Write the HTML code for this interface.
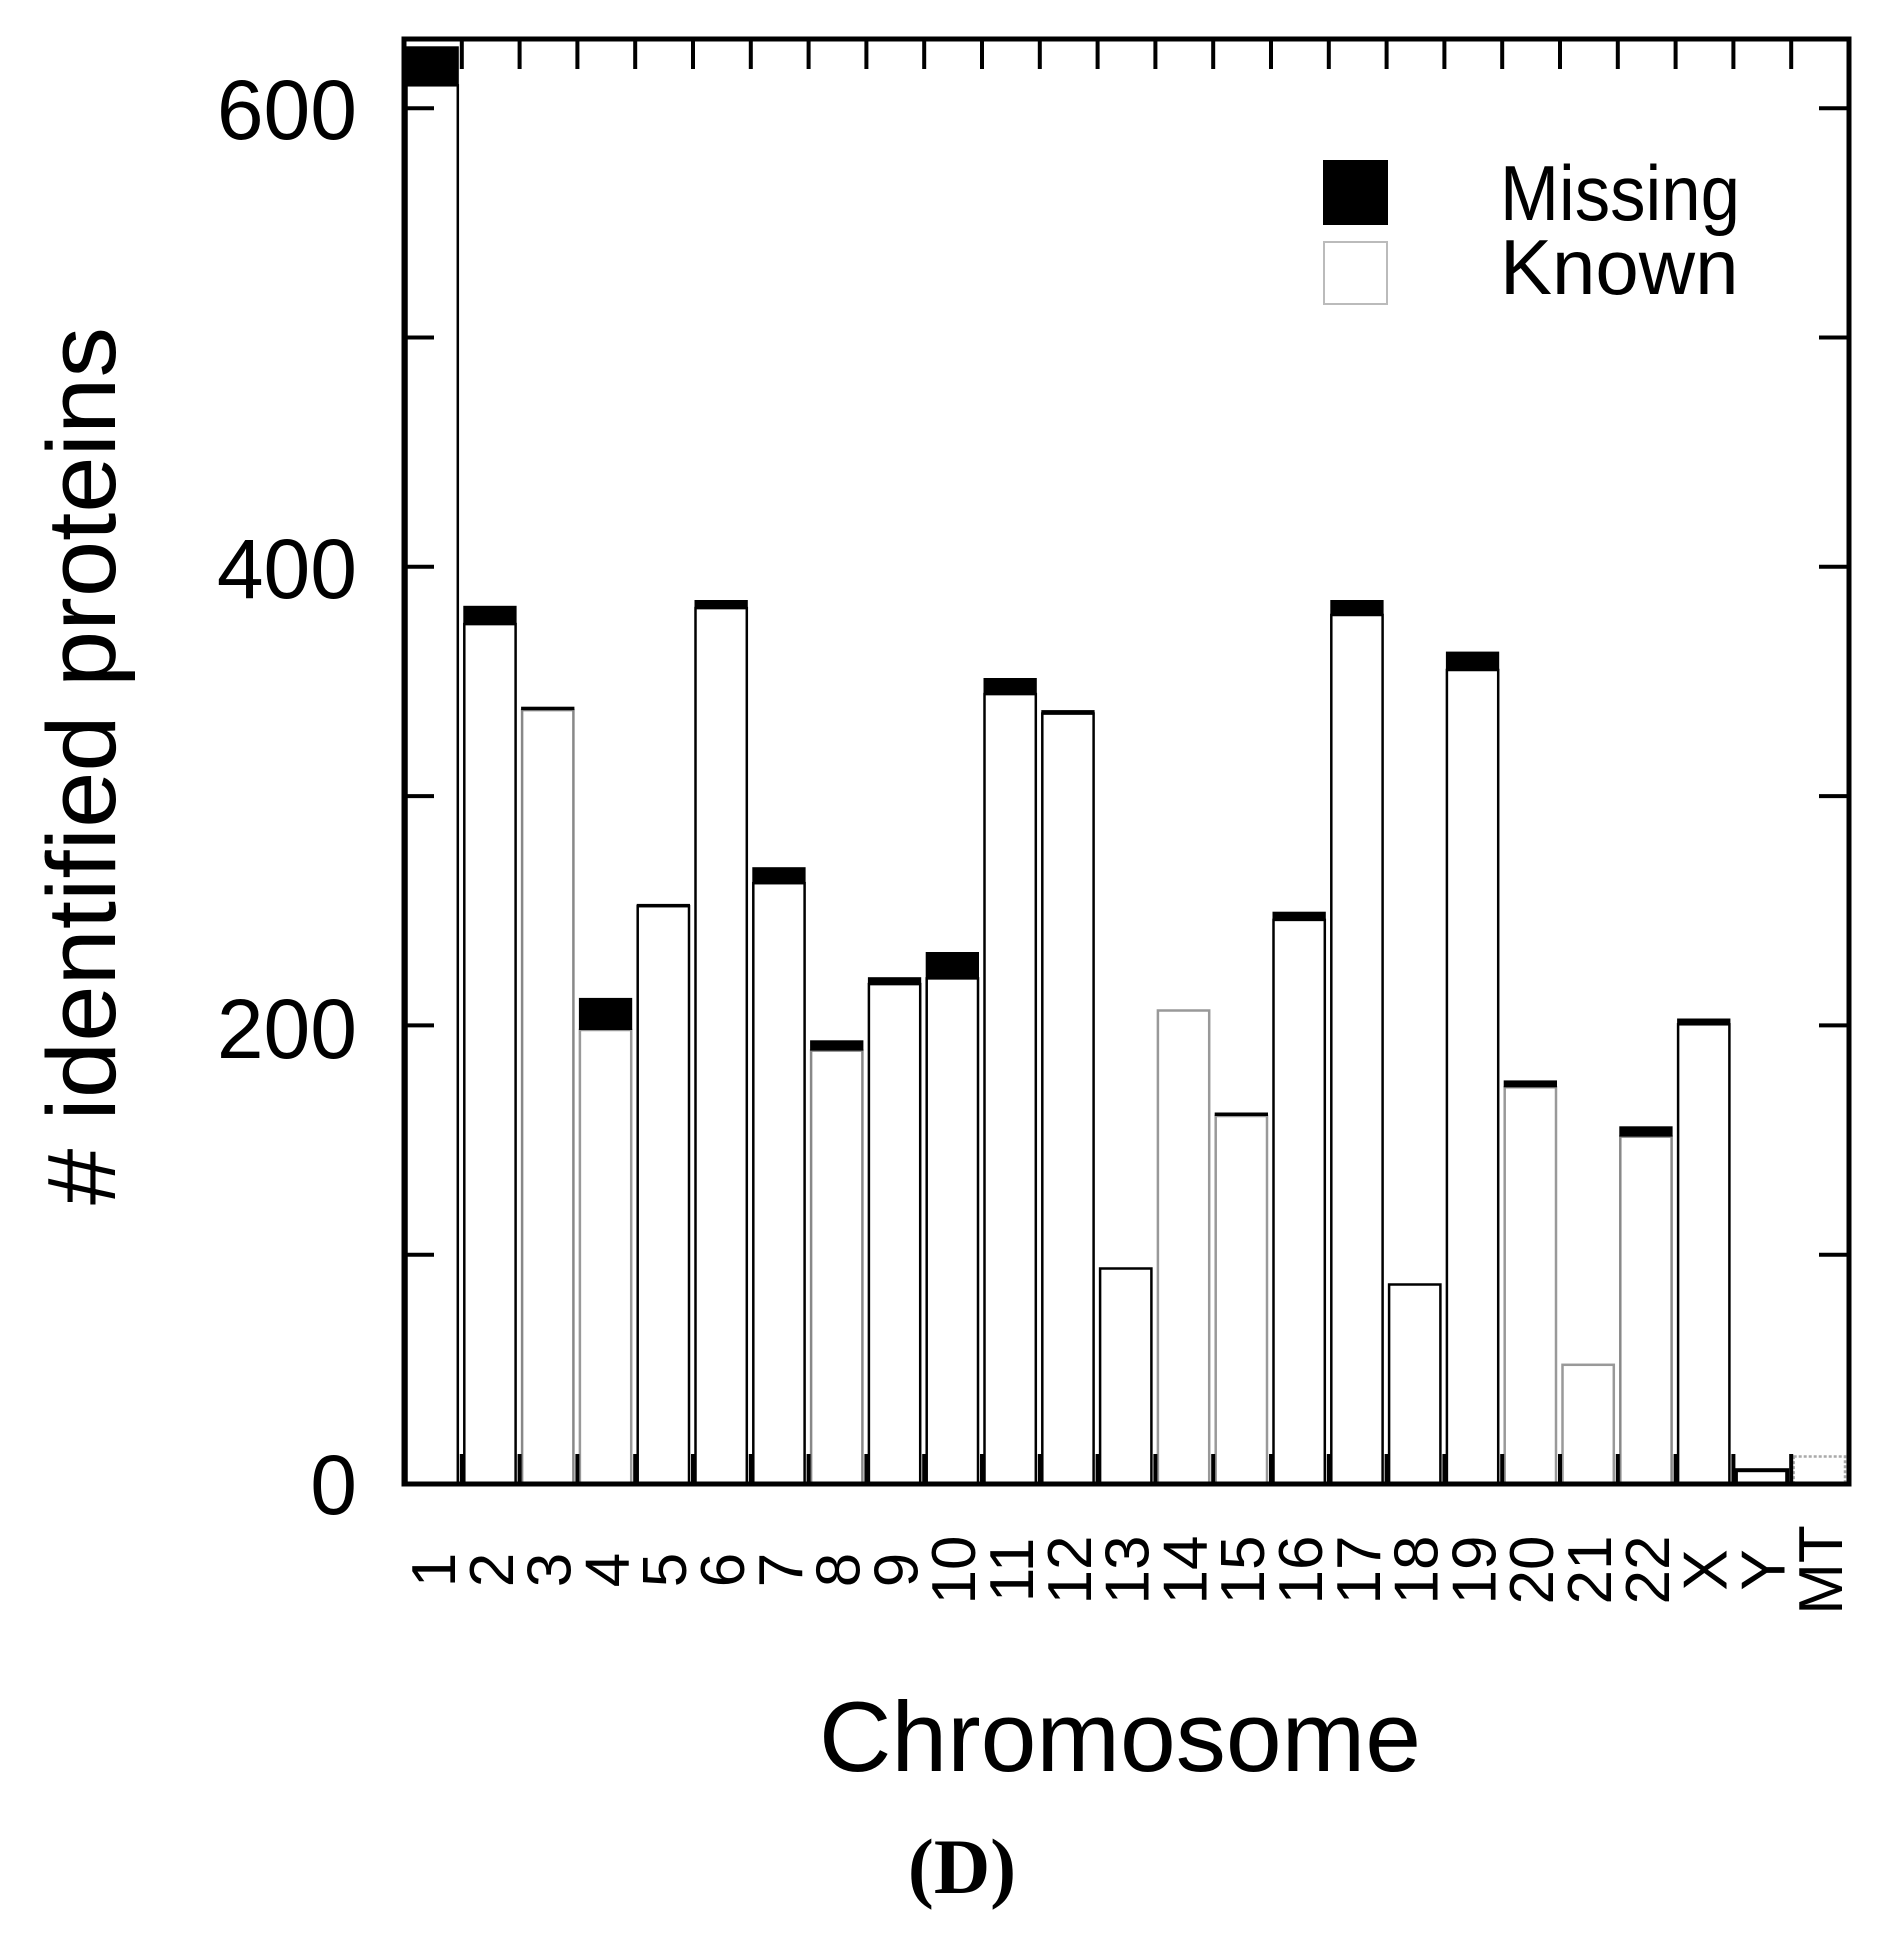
<!DOCTYPE html>
<html><head><meta charset="utf-8"><style>html,body{margin:0;padding:0;background:#fff}svg{display:block}</style></head>
<body>
<svg width="1890" height="1938" viewBox="0 0 1890 1938" xmlns="http://www.w3.org/2000/svg" font-family="Liberation Sans, sans-serif">
<rect width="1890" height="1938" fill="#fff"/>
<g fill="#fff" stroke-width="2.5">
<rect x="406.5" y="85.3" width="51.3" height="1398.7" stroke="#000"/>
<rect x="464.3" y="624.1" width="51.3" height="859.9" stroke="#000"/>
<rect x="522.1" y="710.1" width="51.3" height="773.9" stroke="#888"/>
<rect x="579.9" y="1030" width="51.3" height="454" stroke="#999"/>
<rect x="637.7" y="906.2" width="51.3" height="577.8" stroke="#000"/>
<rect x="695.5" y="608.1" width="51.3" height="875.9" stroke="#000"/>
<rect x="753.3" y="883.2" width="51.3" height="600.8" stroke="#000"/>
<rect x="811.1" y="1050.6" width="51.3" height="433.4" stroke="#888"/>
<rect x="868.9" y="984.1" width="51.3" height="499.9" stroke="#000"/>
<rect x="926.7" y="978.4" width="51.3" height="505.6" stroke="#000"/>
<rect x="984.5" y="694.1" width="51.3" height="789.9" stroke="#000"/>
<rect x="1042.3" y="713.6" width="51.3" height="770.4" stroke="#000"/>
<rect x="1100.1" y="1268.5" width="51.3" height="215.5" stroke="#000"/>
<rect x="1157.9" y="1010.5" width="51.3" height="473.5" stroke="#999"/>
<rect x="1215.7" y="1116" width="51.3" height="368" stroke="#999"/>
<rect x="1273.5" y="919.9" width="51.3" height="564.1" stroke="#000"/>
<rect x="1331.3" y="615" width="51.3" height="869" stroke="#000"/>
<rect x="1389.1" y="1284.5" width="51.3" height="199.5" stroke="#000"/>
<rect x="1446.9" y="670" width="51.3" height="814" stroke="#000"/>
<rect x="1504.7" y="1087.3" width="51.3" height="396.7" stroke="#999"/>
<rect x="1562.5" y="1364.8" width="51.3" height="119.2" stroke="#999"/>
<rect x="1620.3" y="1136.6" width="51.3" height="347.4" stroke="#888"/>
<rect x="1678.1" y="1024.3" width="51.3" height="459.7" stroke="#000"/>
<rect x="1735.9" y="1470.2" width="51.3" height="13.8" stroke="#000" stroke-width="4"/>
<rect x="1793.7" y="1456.5" width="51.3" height="27.5" stroke="#aaa" stroke-dasharray="3 2"/>
</g>
<g fill="#000">
<rect x="405.5" y="46.3" width="53.3" height="39"/>
<rect x="463.3" y="605.8" width="53.3" height="18.3"/>
<rect x="521.1" y="706.7" width="53.3" height="3.4"/>
<rect x="578.9" y="997.9" width="53.3" height="32.1"/>
<rect x="636.7" y="903.9" width="53.3" height="2.3"/>
<rect x="694.5" y="600" width="53.3" height="8.1"/>
<rect x="752.3" y="867.2" width="53.3" height="16"/>
<rect x="810.1" y="1040.3" width="53.3" height="10.3"/>
<rect x="867.9" y="977.2" width="53.3" height="6.9"/>
<rect x="925.7" y="952" width="53.3" height="26.4"/>
<rect x="983.5" y="678" width="53.3" height="16.1"/>
<rect x="1041.3" y="710.1" width="53.3" height="3.5"/>
<rect x="1214.7" y="1112.5" width="53.3" height="3.5"/>
<rect x="1272.5" y="911.7" width="53.3" height="8.2"/>
<rect x="1330.3" y="600" width="53.3" height="15"/>
<rect x="1445.9" y="651.6" width="53.3" height="18.4"/>
<rect x="1503.7" y="1080.4" width="53.3" height="6.9"/>
<rect x="1619.3" y="1126.3" width="53.3" height="10.3"/>
<rect x="1677.1" y="1018.5" width="53.3" height="5.8"/>
</g>
<g stroke="#000" stroke-width="4">
<line x1="459.8" y1="54" x2="1795" y2="54" stroke-width="30" stroke-dasharray="4 53.8"/>
<line x1="459.8" y1="1469" x2="1795" y2="1469" stroke-width="30" stroke-dasharray="4 53.8"/>
<path d="M404 1254.7h30M404 1025.4h30M404 796.1h30M404 566.8h30M404 337.5h30M404 108.2h30M1849 1254.7h-30M1849 1025.4h-30M1849 796.1h-30M1849 566.8h-30M1849 337.5h-30M1849 108.2h-30"/>
</g>
<rect x="404" y="39" width="1445" height="1445" fill="none" stroke="#000" stroke-width="5"/>
<g font-size="62" text-anchor="middle">
<text transform="translate(455,1570) rotate(-90)">1</text>
<text transform="translate(512.8,1570) rotate(-90)">2</text>
<text transform="translate(570.6,1570) rotate(-90)">3</text>
<text transform="translate(628.4,1570) rotate(-90)">4</text>
<text transform="translate(686.2,1570) rotate(-90)">5</text>
<text transform="translate(744,1570) rotate(-90)">6</text>
<text transform="translate(801.8,1570) rotate(-90)">7</text>
<text transform="translate(859.6,1570) rotate(-90)">8</text>
<text transform="translate(917.4,1570) rotate(-90)">9</text>
<text transform="translate(975.2,1570) rotate(-90)">10</text>
<text transform="translate(1033,1570) rotate(-90)">11</text>
<text transform="translate(1090.8,1570) rotate(-90)">12</text>
<text transform="translate(1148.6,1570) rotate(-90)">13</text>
<text transform="translate(1206.4,1570) rotate(-90)">14</text>
<text transform="translate(1264.2,1570) rotate(-90)">15</text>
<text transform="translate(1322,1570) rotate(-90)">16</text>
<text transform="translate(1379.8,1570) rotate(-90)">17</text>
<text transform="translate(1437.6,1570) rotate(-90)">18</text>
<text transform="translate(1495.4,1570) rotate(-90)">19</text>
<text transform="translate(1553.2,1570) rotate(-90)">20</text>
<text transform="translate(1611,1570) rotate(-90)">21</text>
<text transform="translate(1668.8,1570) rotate(-90)">22</text>
<text transform="translate(1726.6,1570) rotate(-90)">X</text>
<text transform="translate(1784.4,1570) rotate(-90)">Y</text>
<text transform="translate(1842.2,1570) rotate(-90)">MT</text>
</g>
<g font-size="84" text-anchor="end">
<text x="357" y="139">600</text>
<text x="357" y="598">400</text>
<text x="357" y="1058">200</text>
<text x="357" y="1514">0</text>
</g>
<text transform="translate(115,766) rotate(-90)" text-anchor="middle" font-size="97" textLength="878" lengthAdjust="spacingAndGlyphs"># identified proteins</text>
<text x="1120" y="1771" text-anchor="middle" font-size="99" textLength="602" lengthAdjust="spacingAndGlyphs">Chromosome</text>
<text x="962" y="1893" text-anchor="middle" font-family="Liberation Serif, serif" font-weight="bold" font-size="78">(D)</text>
<rect x="1323" y="160" width="65" height="65" fill="#000"/>
<rect x="1324" y="242" width="63" height="62" fill="#fff" stroke="#bbb" stroke-width="2"/>
<text x="1500" y="220" font-size="78" textLength="240" lengthAdjust="spacingAndGlyphs">Missing</text>
<text x="1500" y="294" font-size="78">Known</text>
</svg>
</body></html>
